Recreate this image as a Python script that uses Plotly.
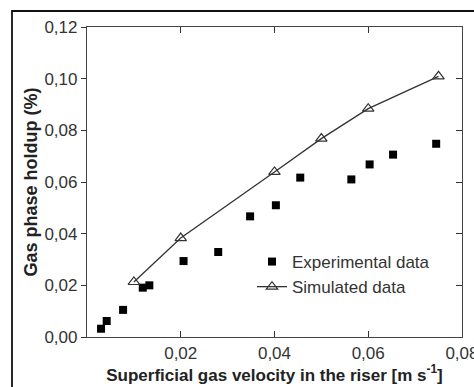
import plotly.graph_objects as go

exp_x = [0.0030, 0.0042, 0.0077, 0.0119, 0.0133, 0.0206, 0.0280, 0.0348, 0.0403, 0.0455, 0.0564, 0.0603, 0.0653, 0.0745]
exp_y = [0.0032, 0.0062, 0.0105, 0.0191, 0.0200, 0.0294, 0.0329, 0.0467, 0.0510, 0.0617, 0.0610, 0.0668, 0.0706, 0.0748]

sim_x = [0.010, 0.020, 0.040, 0.050, 0.060, 0.075]
sim_y = [0.0213, 0.0383, 0.0639, 0.0768, 0.0884, 0.1009]

x_ticks = [0.02, 0.04, 0.06, 0.08]
y_ticks = [0.00, 0.02, 0.04, 0.06, 0.08, 0.10, 0.12]

FONT = "Liberation Sans, Arial, sans-serif"
INK = "#222222"

fig = go.Figure()
fig.add_trace(go.Scatter(
    x=exp_x, y=exp_y, mode="markers", name="Experimental data",
    marker=dict(symbol="square", size=8, color="black"),
))
fig.add_trace(go.Scatter(
    x=sim_x, y=sim_y, mode="lines+markers", name="Simulated data",
    line=dict(color="#333333", width=1.3),
    marker=dict(symbol="triangle-up-open", size=10, color="#333333", line=dict(width=1.2)),
))
# invisible trace to carry the right-hand axis with inward ticks
fig.add_trace(go.Scatter(x=[None], y=[None], yaxis="y2", showlegend=False, hoverinfo="skip"))

fig.update_layout(
    width=474, height=387,
    margin=dict(l=87, r=12, t=27, b=50),
    paper_bgcolor="white", plot_bgcolor="white",
    separators=", ",
    font=dict(family=FONT, color=INK, size=16),
    xaxis=dict(
        range=[0, 0.08001], tickvals=x_ticks, tickformat=".2f",
        ticks="inside", ticklen=6, tickwidth=1, tickcolor="#333",
        showline=True, linecolor="#444", linewidth=1.2, mirror="ticks",
        showgrid=False, zeroline=False, ticklabeloverflow="allow",
        automargin=False,
        tickfont=dict(size=17, color="#333"),
        title=dict(text="<b>Superficial gas velocity in the riser [m s<sup>-1</sup>]</b>",
                   font=dict(size=17, color=INK), standoff=4),
    ),
    yaxis=dict(
        range=[0, 0.12], tickvals=y_ticks, tickformat=".2f",
        ticks="outside", ticklen=5, tickwidth=1, tickcolor="#333",
        showline=True, linecolor="#444", linewidth=1.2, mirror=True,
        showgrid=False, zeroline=False, automargin=False,
        tickfont=dict(size=17, color="#333"),
        title=dict(text="<b>Gas phase holdup (%)</b>", font=dict(size=18, color=INK), standoff=2),
    ),
    yaxis2=dict(
        range=[0, 0.12], tickvals=y_ticks, overlaying="y", side="right",
        ticks="inside", ticklen=6, tickwidth=1, tickcolor="#333",
        showticklabels=False, showgrid=False, zeroline=False, showline=False,
        automargin=False,
    ),
    legend=dict(
        x=0.44, y=0.30, xanchor="left", yanchor="top",
        bgcolor="rgba(0,0,0,0)", font=dict(size=17, color="#333"),
        tracegroupgap=0, itemwidth=30,
    ),
    showlegend=True,
    shapes=[dict(type="rect", xref="paper", yref="paper",
                 x0=-0.2, x1=1.2, y0=-0.3, y1=1.0516,
                 line=dict(color="#111", width=1.8), layer="below")],
)

fig.write_html("out.html")
